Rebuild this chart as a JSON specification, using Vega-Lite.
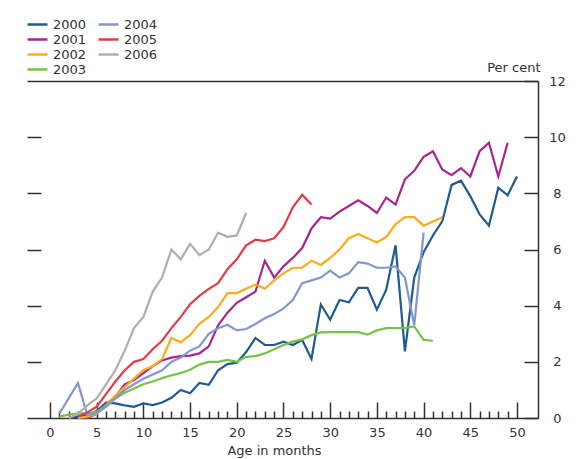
{
  "$schema": "https://vega.github.io/schema/vega-lite/v6.json",
  "width": 511,
  "height": 337,
  "autosize": "none",
  "padding": {"left": 27, "top": 81, "right": 47, "bottom": 41},
  "background": "white",
  "config": {
    "view": {"stroke": null},
    "font": "DejaVu Sans",
    "axis": {"labelFont": "DejaVu Sans", "titleFont": "DejaVu Sans", "labelColor": "#333", "titleColor": "#333", "domainColor": "#333", "tickColor": "#333", "grid": false, "labelFontSize": 13, "titleFontSize": 13, "titleFontWeight": "normal", "domainWidth": 1.5, "tickWidth": 1.5}
  },
  "data": {"values": [
    {"year":"2000","month":2,"pct":0},{"year":"2000","month":3,"pct":0.05},{"year":"2000","month":4,"pct":0.1},{"year":"2000","month":5,"pct":0.25},{"year":"2000","month":6,"pct":0.55},{"year":"2000","month":7,"pct":0.52},{"year":"2000","month":8,"pct":0.45},{"year":"2000","month":9,"pct":0.4},{"year":"2000","month":10,"pct":0.52},{"year":"2000","month":11,"pct":0.46},{"year":"2000","month":12,"pct":0.55},{"year":"2000","month":13,"pct":0.72},{"year":"2000","month":14,"pct":1.0},{"year":"2000","month":15,"pct":0.88},{"year":"2000","month":16,"pct":1.25},{"year":"2000","month":17,"pct":1.18},{"year":"2000","month":18,"pct":1.7},{"year":"2000","month":19,"pct":1.92},{"year":"2000","month":20,"pct":1.97},{"year":"2000","month":21,"pct":2.35},{"year":"2000","month":22,"pct":2.85},{"year":"2000","month":23,"pct":2.6},{"year":"2000","month":24,"pct":2.6},{"year":"2000","month":25,"pct":2.72},{"year":"2000","month":26,"pct":2.6},{"year":"2000","month":27,"pct":2.78},{"year":"2000","month":28,"pct":2.1},{"year":"2000","month":29,"pct":4.04},{"year":"2000","month":30,"pct":3.5},{"year":"2000","month":31,"pct":4.2},{"year":"2000","month":32,"pct":4.12},{"year":"2000","month":33,"pct":4.63},{"year":"2000","month":34,"pct":4.63},{"year":"2000","month":35,"pct":3.86},{"year":"2000","month":36,"pct":4.57},{"year":"2000","month":37,"pct":6.15},{"year":"2000","month":38,"pct":2.37},{"year":"2000","month":39,"pct":5.0},{"year":"2000","month":40,"pct":5.9},{"year":"2000","month":41,"pct":6.5},{"year":"2000","month":42,"pct":7.0},{"year":"2000","month":43,"pct":8.3},{"year":"2000","month":44,"pct":8.45},{"year":"2000","month":45,"pct":7.9},{"year":"2000","month":46,"pct":7.25},{"year":"2000","month":47,"pct":6.85},{"year":"2000","month":48,"pct":8.2},{"year":"2000","month":49,"pct":7.93},{"year":"2000","month":50,"pct":8.6},
    {"year":"2001","month":3,"pct":0},{"year":"2001","month":4,"pct":0},{"year":"2001","month":5,"pct":0.15},{"year":"2001","month":6,"pct":0.5},{"year":"2001","month":7,"pct":0.75},{"year":"2001","month":8,"pct":1.2},{"year":"2001","month":9,"pct":1.35},{"year":"2001","month":10,"pct":1.6},{"year":"2001","month":11,"pct":1.85},{"year":"2001","month":12,"pct":2.05},{"year":"2001","month":13,"pct":2.15},{"year":"2001","month":14,"pct":2.2},{"year":"2001","month":15,"pct":2.22},{"year":"2001","month":16,"pct":2.3},{"year":"2001","month":17,"pct":2.55},{"year":"2001","month":18,"pct":3.3},{"year":"2001","month":19,"pct":3.75},{"year":"2001","month":20,"pct":4.1},{"year":"2001","month":21,"pct":4.3},{"year":"2001","month":22,"pct":4.5},{"year":"2001","month":23,"pct":5.6},{"year":"2001","month":24,"pct":5.0},{"year":"2001","month":25,"pct":5.4},{"year":"2001","month":26,"pct":5.7},{"year":"2001","month":27,"pct":6.05},{"year":"2001","month":28,"pct":6.75},{"year":"2001","month":29,"pct":7.15},{"year":"2001","month":30,"pct":7.1},{"year":"2001","month":31,"pct":7.35},{"year":"2001","month":32,"pct":7.55},{"year":"2001","month":33,"pct":7.75},{"year":"2001","month":34,"pct":7.55},{"year":"2001","month":35,"pct":7.3},{"year":"2001","month":36,"pct":7.85},{"year":"2001","month":37,"pct":7.6},{"year":"2001","month":38,"pct":8.5},{"year":"2001","month":39,"pct":8.8},{"year":"2001","month":40,"pct":9.3},{"year":"2001","month":41,"pct":9.5},{"year":"2001","month":42,"pct":8.85},{"year":"2001","month":43,"pct":8.65},{"year":"2001","month":44,"pct":8.9},{"year":"2001","month":45,"pct":8.6},{"year":"2001","month":46,"pct":9.5},{"year":"2001","month":47,"pct":9.8},{"year":"2001","month":48,"pct":8.6},{"year":"2001","month":49,"pct":9.8},
    {"year":"2002","month":3,"pct":0},{"year":"2002","month":4,"pct":0.05},{"year":"2002","month":5,"pct":0.15},{"year":"2002","month":6,"pct":0.45},{"year":"2002","month":7,"pct":0.8},{"year":"2002","month":8,"pct":1.1},{"year":"2002","month":9,"pct":1.4},{"year":"2002","month":10,"pct":1.7},{"year":"2002","month":11,"pct":1.85},{"year":"2002","month":12,"pct":2.1},{"year":"2002","month":13,"pct":2.85},{"year":"2002","month":14,"pct":2.7},{"year":"2002","month":15,"pct":2.95},{"year":"2002","month":16,"pct":3.35},{"year":"2002","month":17,"pct":3.6},{"year":"2002","month":18,"pct":3.95},{"year":"2002","month":19,"pct":4.45},{"year":"2002","month":20,"pct":4.45},{"year":"2002","month":21,"pct":4.6},{"year":"2002","month":22,"pct":4.75},{"year":"2002","month":23,"pct":4.6},{"year":"2002","month":24,"pct":4.9},{"year":"2002","month":25,"pct":5.15},{"year":"2002","month":26,"pct":5.35},{"year":"2002","month":27,"pct":5.35},{"year":"2002","month":28,"pct":5.6},{"year":"2002","month":29,"pct":5.45},{"year":"2002","month":30,"pct":5.7},{"year":"2002","month":31,"pct":6.0},{"year":"2002","month":32,"pct":6.4},{"year":"2002","month":33,"pct":6.55},{"year":"2002","month":34,"pct":6.4},{"year":"2002","month":35,"pct":6.25},{"year":"2002","month":36,"pct":6.45},{"year":"2002","month":37,"pct":6.9},{"year":"2002","month":38,"pct":7.15},{"year":"2002","month":39,"pct":7.15},{"year":"2002","month":40,"pct":6.85},{"year":"2002","month":41,"pct":7.0},{"year":"2002","month":42,"pct":7.15},
    {"year":"2003","month":1,"pct":0.05},{"year":"2003","month":2,"pct":0.12},{"year":"2003","month":3,"pct":0.17},{"year":"2003","month":4,"pct":0.17},{"year":"2003","month":5,"pct":0.22},{"year":"2003","month":6,"pct":0.45},{"year":"2003","month":7,"pct":0.7},{"year":"2003","month":8,"pct":0.9},{"year":"2003","month":9,"pct":1.05},{"year":"2003","month":10,"pct":1.2},{"year":"2003","month":11,"pct":1.3},{"year":"2003","month":12,"pct":1.42},{"year":"2003","month":13,"pct":1.52},{"year":"2003","month":14,"pct":1.6},{"year":"2003","month":15,"pct":1.72},{"year":"2003","month":16,"pct":1.9},{"year":"2003","month":17,"pct":2.0},{"year":"2003","month":18,"pct":2.0},{"year":"2003","month":19,"pct":2.07},{"year":"2003","month":20,"pct":2.0},{"year":"2003","month":21,"pct":2.18},{"year":"2003","month":22,"pct":2.2},{"year":"2003","month":23,"pct":2.3},{"year":"2003","month":24,"pct":2.45},{"year":"2003","month":25,"pct":2.6},{"year":"2003","month":26,"pct":2.72},{"year":"2003","month":27,"pct":2.8},{"year":"2003","month":28,"pct":2.95},{"year":"2003","month":29,"pct":3.05},{"year":"2003","month":30,"pct":3.06},{"year":"2003","month":31,"pct":3.06},{"year":"2003","month":32,"pct":3.06},{"year":"2003","month":33,"pct":3.06},{"year":"2003","month":34,"pct":2.97},{"year":"2003","month":35,"pct":3.12},{"year":"2003","month":36,"pct":3.2},{"year":"2003","month":37,"pct":3.2},{"year":"2003","month":38,"pct":3.2},{"year":"2003","month":39,"pct":3.26},{"year":"2003","month":40,"pct":2.78},{"year":"2003","month":41,"pct":2.75},
    {"year":"2004","month":1,"pct":0.15},{"year":"2004","month":2,"pct":0.7},{"year":"2004","month":3,"pct":1.25},{"year":"2004","month":4,"pct":0.1},{"year":"2004","month":5,"pct":0.17},{"year":"2004","month":6,"pct":0.4},{"year":"2004","month":7,"pct":0.7},{"year":"2004","month":8,"pct":1.0},{"year":"2004","month":9,"pct":1.2},{"year":"2004","month":10,"pct":1.4},{"year":"2004","month":11,"pct":1.55},{"year":"2004","month":12,"pct":1.7},{"year":"2004","month":13,"pct":2.0},{"year":"2004","month":14,"pct":2.15},{"year":"2004","month":15,"pct":2.4},{"year":"2004","month":16,"pct":2.55},{"year":"2004","month":17,"pct":3.0},{"year":"2004","month":18,"pct":3.2},{"year":"2004","month":19,"pct":3.32},{"year":"2004","month":20,"pct":3.12},{"year":"2004","month":21,"pct":3.17},{"year":"2004","month":22,"pct":3.35},{"year":"2004","month":23,"pct":3.55},{"year":"2004","month":24,"pct":3.7},{"year":"2004","month":25,"pct":3.9},{"year":"2004","month":26,"pct":4.2},{"year":"2004","month":27,"pct":4.8},{"year":"2004","month":28,"pct":4.9},{"year":"2004","month":29,"pct":5.0},{"year":"2004","month":30,"pct":5.25},{"year":"2004","month":31,"pct":5.0},{"year":"2004","month":32,"pct":5.15},{"year":"2004","month":33,"pct":5.55},{"year":"2004","month":34,"pct":5.5},{"year":"2004","month":35,"pct":5.35},{"year":"2004","month":36,"pct":5.35},{"year":"2004","month":37,"pct":5.4},{"year":"2004","month":38,"pct":5.0},{"year":"2004","month":39,"pct":3.3},{"year":"2004","month":40,"pct":6.6},
    {"year":"2005","month":3,"pct":0.05},{"year":"2005","month":4,"pct":0.2},{"year":"2005","month":5,"pct":0.4},{"year":"2005","month":6,"pct":0.85},{"year":"2005","month":7,"pct":1.3},{"year":"2005","month":8,"pct":1.7},{"year":"2005","month":9,"pct":2.0},{"year":"2005","month":10,"pct":2.1},{"year":"2005","month":11,"pct":2.45},{"year":"2005","month":12,"pct":2.75},{"year":"2005","month":13,"pct":3.2},{"year":"2005","month":14,"pct":3.6},{"year":"2005","month":15,"pct":4.05},{"year":"2005","month":16,"pct":4.35},{"year":"2005","month":17,"pct":4.6},{"year":"2005","month":18,"pct":4.8},{"year":"2005","month":19,"pct":5.3},{"year":"2005","month":20,"pct":5.65},{"year":"2005","month":21,"pct":6.15},{"year":"2005","month":22,"pct":6.35},{"year":"2005","month":23,"pct":6.3},{"year":"2005","month":24,"pct":6.4},{"year":"2005","month":25,"pct":6.8},{"year":"2005","month":26,"pct":7.5},{"year":"2005","month":27,"pct":7.95},{"year":"2005","month":28,"pct":7.6},
    {"year":"2006","month":2,"pct":0},{"year":"2006","month":3,"pct":0.15},{"year":"2006","month":4,"pct":0.45},{"year":"2006","month":5,"pct":0.7},{"year":"2006","month":6,"pct":1.2},{"year":"2006","month":7,"pct":1.7},{"year":"2006","month":8,"pct":2.4},{"year":"2006","month":9,"pct":3.2},{"year":"2006","month":10,"pct":3.6},{"year":"2006","month":11,"pct":4.5},{"year":"2006","month":12,"pct":5.0},{"year":"2006","month":13,"pct":6.0},{"year":"2006","month":14,"pct":5.65},{"year":"2006","month":15,"pct":6.2},{"year":"2006","month":16,"pct":5.8},{"year":"2006","month":17,"pct":6.0},{"year":"2006","month":18,"pct":6.6},{"year":"2006","month":19,"pct":6.45},{"year":"2006","month":20,"pct":6.5},{"year":"2006","month":21,"pct":7.3}
  ]},
  "resolve": {"axis": {"x": "independent", "y": "independent"}},
  "layer": [
    {
      "mark": {"type": "point", "opacity": 0},
      "encoding": {
        "x": {"field": "month", "type": "quantitative", "scale": {"domain": [-2.46, 52.25], "nice": false, "zero": false},
              "axis": {"orient": "top", "domain": true, "ticks": false, "labels": false, "title": null}},
        "y": {"field": "pct", "type": "quantitative", "scale": {"domain": [0, 12], "nice": false},
              "axis": {"orient": "left", "values": [2, 4, 6, 8, 10], "domain": false, "labels": false, "tickSize": -14, "title": null}}
      }
    },
    {
      "mark": {"type": "point", "opacity": 0},
      "encoding": {
        "x": {"field": "month", "type": "quantitative",
              "axis": {"orient": "bottom", "values": [1,2,3,4,6,7,8,9,11,12,13,14,16,17,18,19,21,22,23,24,26,27,28,29,31,32,33,34,36,37,38,39,41,42,43,44,46,47,48,49], "domain": false, "labels": false, "tickSize": -7, "title": null}},
        "y": {"field": "pct", "type": "quantitative", "axis": null}
      }
    },
    {
      "mark": {"type": "line", "strokeWidth": 2.2, "interpolate": "linear"},
      "encoding": {
        "x": {"field": "month", "type": "quantitative",
              "axis": {"orient": "bottom", "values": [0,5,10,15,20,25,30,35,40,45,50], "tickSize": -16, "labelPadding": 24, "title": "Age in months", "titleX": 247, "titleY": 32, "titleBaseline": "middle", "titleAnchor": "middle"}},
        "y": {"field": "pct", "type": "quantitative",
              "axis": {"orient": "right", "values": [0,2,4,6,8,10,12], "tickSize": -14, "labelAlign": "center", "labelPadding": 33, "title": "Per cent", "titleAngle": 0, "titleAlign": "right", "titleBaseline": "middle", "titleX": 2, "titleY": -14}},
        "color": {"field": "year", "type": "nominal",
                  "scale": {"domain": ["2000","2001","2002","2003","2004","2005","2006"], "range": ["#1f5b8e","#a6258f","#fbab1c","#78c245","#8594d2","#e23c4a","#b3ada7"]},
                  "legend": {"orient": "none", "legendX": 2.5, "legendY": -64.5, "columns": 2, "title": null, "symbolType": "M-1.538,0H1.538", "symbolSize": 169, "symbolStrokeWidth": 2.5, "labelFontSize": 13, "labelFont": "DejaVu Sans", "labelColor": "#333", "labelOffset": 7.5, "columnPadding": 7, "rowPadding": 0, "padding": 0}}
      }
    }
  ]
}
